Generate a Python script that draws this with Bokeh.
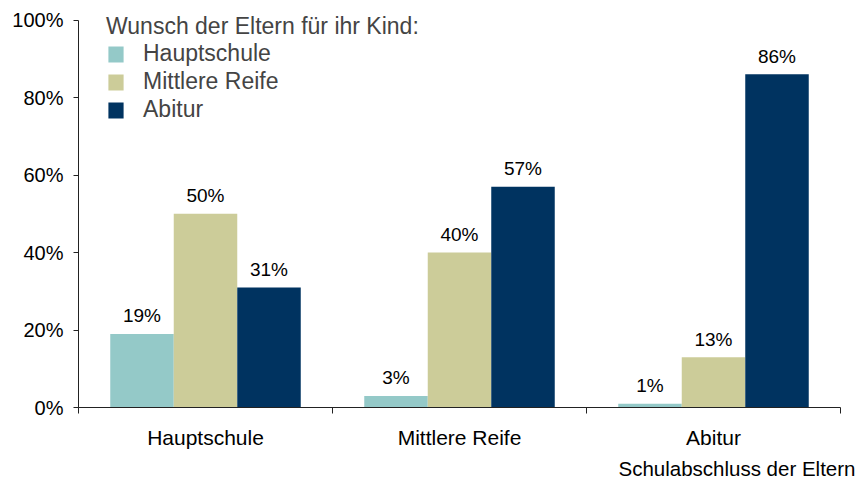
from bokeh.plotting import figure
from bokeh.models import FixedTicker, Legend, LegendItem, Title
from bokeh.core.properties import value
from bokeh.embed import file_html
from bokeh.resources import INLINE

categories = ["Hauptschule", "Mittlere Reife", "Abitur"]
series_names = ["Hauptschule", "Mittlere Reife", "Abitur"]
hauptschule = [19, 3, 1]
mittlere_reife = [50, 40, 13]
abitur = [31, 57, 86]
y_ticks = [0, 20, 40, 60, 80, 100]
legend_title = "Wunsch der Eltern für ihr Kind:"
x_title = "Schulabschluss der Eltern"

colors = ["#94C9C8", "#CCCC99", "#003360"]
FONT = "Liberation Sans"

# frame spans canvas y 8..407; value 100 should sit at y 19.5
Y_END = 100 * (407 - 8) / (407 - 19.5)

p = figure(width=857, height=482, x_range=(0, 3), y_range=(0, Y_END),
           output_backend="svg", toolbar_location=None,
           min_border_left=78, min_border_right=17, min_border_top=8,
           min_border_bottom=75)
p.outline_line_color = None
p.xgrid.grid_line_color = None
p.ygrid.grid_line_color = None

series = [hauptschule, mittlere_reife, abitur]
offsets = [-0.25, 0.0, 0.25]
items = []
for name, vals, off, col in zip(series_names, series, offsets, colors):
    xs = [i + 0.5 + off for i in range(len(categories))]
    r = p.vbar(x=xs, top=vals, bottom=0, width=0.25, fill_color=col, line_color=None)
    items.append(LegendItem(label=name, renderers=[r]))
    p.text(x=xs, y=vals, text=[f"{v}%" for v in vals], text_align="center",
           text_baseline="alphabetic", y_offset=-18,
           text_font=value(FONT), text_font_size="19px", text_color="#000000")

# axes
xa = p.xaxis[0]
xa.ticker = FixedTicker(ticks=[i + 0.5 for i in range(len(categories))],
                        minor_ticks=list(range(len(categories) + 1)))
xa.major_label_overrides = {i + 0.5: c for i, c in enumerate(categories)}
xa.major_tick_line_color = None
xa.major_tick_out = 0
xa.major_tick_in = 0
xa.minor_tick_out = 6
xa.minor_tick_in = 0
xa.minor_tick_line_color = "#222222"
xa.axis_line_color = "#222222"
xa.major_label_standoff = 12
xa.major_label_text_font = FONT
xa.major_label_text_font_size = "21px"
xa.major_label_text_color = "#000000"

ya = p.yaxis[0]
ya.ticker = FixedTicker(ticks=y_ticks)
ya.bounds = (0, 100)
ya.major_label_overrides = {t: f"{t}%" for t in y_ticks}
ya.major_tick_out = 5
ya.major_tick_in = 0
ya.major_tick_line_color = "#222222"
ya.axis_line_color = "#222222"
ya.minor_tick_line_color = None
ya.major_label_standoff = 10
ya.major_label_text_font = FONT
ya.major_label_text_font_size = "20px"
ya.major_label_text_color = "#000000"

p.add_layout(Title(text=x_title, align="right", text_font=FONT, text_font_size="20.5px",
                   text_font_style="normal", text_color="#000000", standoff=6, offset=-15), "below")

legend = Legend(items=items, location=(28, 284), title=legend_title,
                title_text_font=FONT, title_text_font_size="23px", title_text_font_style="normal",
                title_standoff=-6, label_text_font=FONT, label_text_font_size="23px",
                glyph_width=19, glyph_height=20, label_standoff=18, spacing=1,
                padding=0, margin=0, border_line_color=None, background_fill_alpha=0)
p.add_layout(legend, "center")

open("out.html", "w").write(file_html(p, INLINE))
